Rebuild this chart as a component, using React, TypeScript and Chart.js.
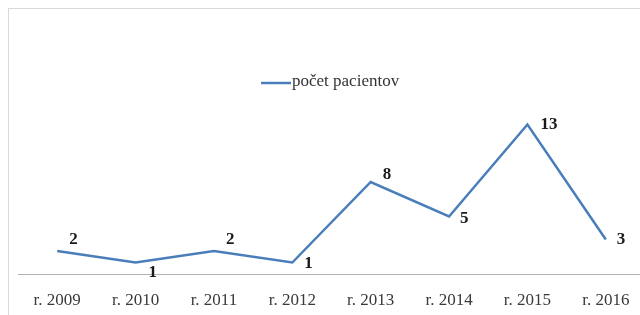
import React, { useEffect, useRef } from "react";
import { Chart, registerables } from "chart.js";

Chart.register(...registerables);

const categories = ["r. 2009", "r. 2010", "r. 2011", "r. 2012", "r. 2013", "r. 2014", "r. 2015", "r. 2016"];
const seriesName = "počet pacientov";
const patients = [2, 1, 2, 1, 8, 5, 13, 3];

// label placement (style only): [dx, dy] from each point
const labelOffsets: [number, number][] = [
  [12, -11], [13, 10], [12, -11], [12, 1], [12, -7], [11, 2], [13, 0], [11, 0],
];

export default function App() {
  const ref = useRef<HTMLCanvasElement>(null);

  useEffect(() => {
    const legendPlugin = {
      id: "legendLine",
      afterDraw(chart: any) {
        const ctx = chart.ctx;
        ctx.save();
        ctx.strokeStyle = "#4a7ebb";
        ctx.lineWidth = 2.5;
        ctx.beginPath();
        ctx.moveTo(261, 83);
        ctx.lineTo(291, 83);
        ctx.stroke();
        ctx.fillStyle = "#333333";
        ctx.font = "17px 'Liberation Serif'";
        ctx.textBaseline = "middle";
        ctx.textAlign = "left";
        ctx.fillText(seriesName, 292, 82);
        ctx.restore();
      },
    };
    const labelPlugin = {
      id: "valueLabels",
      afterDatasetsDraw(chart: any) {
        const ctx = chart.ctx;
        const meta = chart.getDatasetMeta(0);
        ctx.save();
        ctx.fillStyle = "#1a1a1a";
        ctx.font = "bold 17px 'Liberation Serif'";
        ctx.textBaseline = "middle";
        ctx.textAlign = "left";
        meta.data.forEach((pt: any, i: number) => {
          const [dx, dy] = labelOffsets[i];
          ctx.fillText(String(patients[i]), pt.x + dx, pt.y + dy);
        });
        ctx.restore();
      },
    };

    const chart = new Chart(ref.current as HTMLCanvasElement, {
      type: "line",
      data: {
        labels: categories,
        datasets: [
          {
            label: seriesName,
            data: patients,
            borderColor: "#4a7ebb",
            borderWidth: 2.5,
            pointRadius: 0,
            tension: 0,
            fill: false,
          },
        ],
      },
      options: {
        responsive: false,
        animation: false,
        layout: { padding: { left: 18, right: 15, top: 113, bottom: 0 } },
        plugins: { legend: { display: false }, tooltip: { enabled: false } },
        scales: {
          x: {
            offset: true,
            grid: { display: false, drawTicks: false },
            border: { display: true, color: "#b3b3b3", width: 1 },
            ticks: {
              font: { family: "'Liberation Serif'", size: 17 },
              color: "#3a3a3a",
              padding: 16,
              maxRotation: 0,
              autoSkip: false,
            },
            afterFit(s: any) {
              s.height = 41;
            },
          },
          y: { display: false, min: 0, max: 14 },
        },
      },
      plugins: [legendPlugin, labelPlugin],
    });
    return () => chart.destroy();
  }, []);

  return (
    <div style={{ position: "fixed", left: 0, top: 0, width: 640, height: 315, overflow: "hidden", background: "#fff" }}>
      <div
        style={{
          position: "absolute",
          left: 8,
          top: 8,
          width: 700,
          height: 400,
          borderTop: "1px solid #d9d9d9",
          borderLeft: "1px solid #d9d9d9",
        }}
      />
      <canvas ref={ref} width={660} height={315} style={{ position: "absolute", left: 0, top: 0 }} />
    </div>
  );
}
